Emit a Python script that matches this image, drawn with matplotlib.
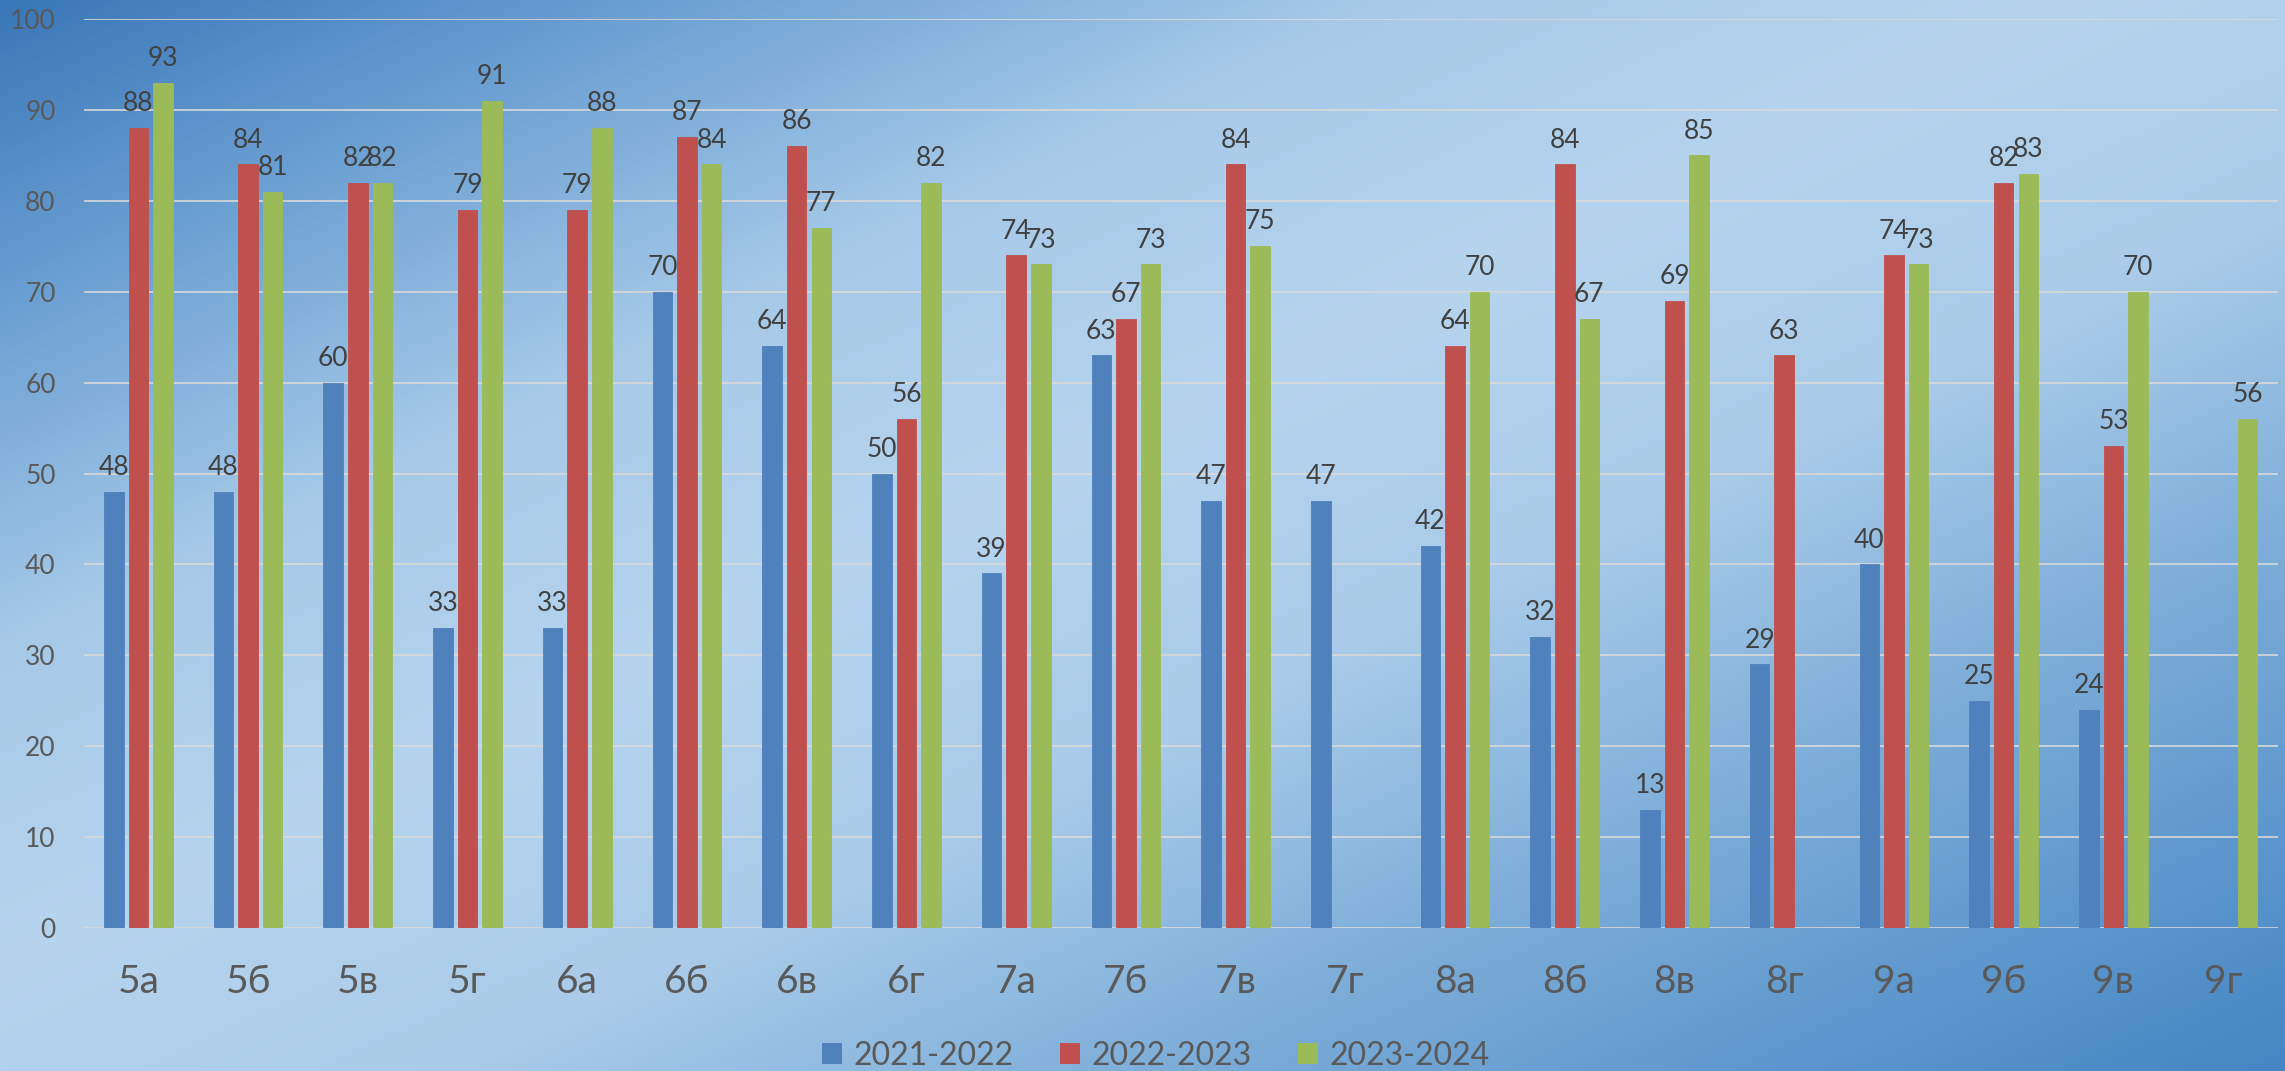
import numpy as np
import matplotlib
matplotlib.use("Agg")
import matplotlib.pyplot as plt
from matplotlib.colors import LinearSegmentedColormap
from matplotlib.patches import Patch

categories = ["5а", "5б", "5в", "5г", "6а", "6б", "6в", "6г", "7а", "7б",
              "7в", "7г", "8а", "8б", "8в", "8г", "9а", "9б", "9в", "9г"]
s2021 = [48, 48, 60, 33, 33, 70, 64, 50, 39, 63, 47, 47, 42, 32, 13, 29, 40, 25, 24, None]
s2022 = [88, 84, 82, 79, 79, 87, 86, 56, 74, 67, 84, None, 64, 84, 69, 63, 74, 82, 53, None]
s2023 = [93, 81, 82, 91, 88, 84, 77, 82, 73, 73, 75, None, 70, 67, 85, None, 73, 83, 70, 56]
series_names = ["2021-2022", "2022-2023", "2023-2024"]
series_colors = ["#4F81BD", "#C0504D", "#9BBB59"]
yticks = list(range(0, 101, 10))

plt.rcParams['font.family'] = ['Lato', 'DejaVu Sans']

W, H = 2285, 1071
fig = plt.figure(figsize=(W / 100, H / 100), dpi=100)

# background gradient
bg = fig.add_axes([0, 0, 1, 1], zorder=0)
xx, yy = np.meshgrid(np.linspace(0, 1, 600), np.linspace(0, 1, 300))
t = (xx + yy) / 2
stops = [(0.0, "#3a77b8"), (0.14, "#6a9fd2"), (0.3, "#a6c9e8"), (0.45, "#b6d4ee"),
         (0.6, "#a9cbe9"), (0.75, "#7eaed9"), (0.9, "#5b95cc"), (1.0, "#4586c4")]
cmap = LinearSegmentedColormap.from_list("bgc", stops)
bg.imshow(cmap(t), aspect='auto', extent=[0, 1, 0, 1], origin='upper', interpolation='bilinear')
bg.set_xlim(0, 1)
bg.set_ylim(0, 1)
bg.axis('off')

ax_left = 83.5 / W
ax_right = 2278 / W
ax_bottom = 1 - 928 / H
ax_top = 1 - 19 / H
ax = fig.add_axes([ax_left, ax_bottom, ax_right - ax_left, ax_top - ax_bottom], zorder=1)
ax.set_facecolor('none')

x = np.arange(len(categories))
pitch = 0.224
width = 0.178
all_series = [s2021, s2022, s2023]
for i, (vals, col) in enumerate(zip(all_series, series_colors)):
    v = np.array([np.nan if a is None else a for a in vals], dtype=float)
    xs = x + (i - 1) * pitch
    ax.bar(xs, v, width=width, color=col, edgecolor=col, linewidth=0.6, zorder=3)
    for xi, vi in zip(xs, v):
        if not np.isnan(vi):
            ax.annotate(f"{int(vi)}", (xi, vi), xytext=(0, 8.5), textcoords='offset points',
                        ha='center', va='bottom', fontsize=19, color='#404040', zorder=4)

ax.set_xlim(-0.5, len(categories) - 0.5)
ax.set_ylim(0, 100)
ax.set_yticks(yticks)
ax.set_yticklabels([str(v) for v in yticks])
ax.set_xticks(x)
ax.set_xticklabels(categories)
ax.tick_params(axis='y', length=0, pad=20, labelsize=19, labelcolor='#595959')
ax.tick_params(axis='x', length=0, pad=26, labelsize=28, labelcolor='#595959')
ax.grid(axis='y', color='#d9d9d9', linewidth=1.2, zorder=1)
ax.set_axisbelow(True)
for s in ax.spines.values():
    s.set_visible(False)

handles = [Patch(facecolor=c, edgecolor='none') for c in series_colors]
fig.legend(handles, series_names, loc='center', bbox_to_anchor=(1156 / W, 1 - 1056 / H),
           ncol=3, frameon=False, fontsize=23, labelcolor='#595959',
           handlelength=0.625, handleheight=0.625, handletextpad=0.375, columnspacing=1.44)

fig.savefig("out.png", dpi=100)
